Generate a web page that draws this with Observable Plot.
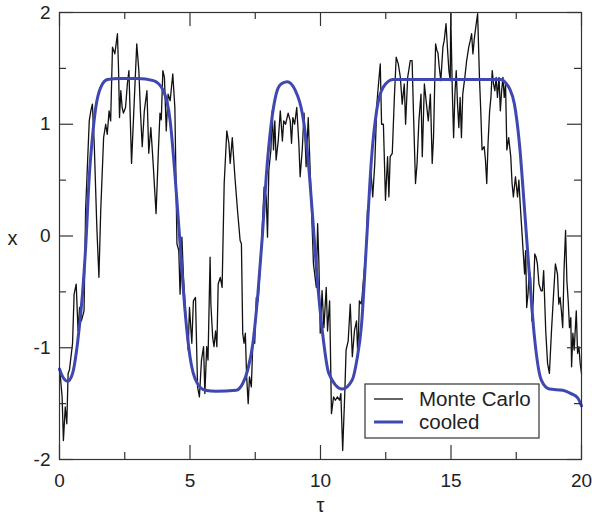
<!DOCTYPE html>
<html>
<head>
<meta charset="utf-8">
<script src="https://cdn.jsdelivr.net/npm/d3@7"></script>
<script src="https://cdn.jsdelivr.net/npm/@observablehq/plot@0.6"></script>
<style>
  html, body { margin: 0; padding: 0; background: #fff; }
  #chart { position: relative; width: 592px; height: 516px; }
</style>
</head>
<body>
<div id="chart"></div>
<script>
// ---- data ----
const xTickLabels = [0, 5, 10, 15, 20];
const xMinorTicks = [2.5, 7.5, 12.5, 17.5];
const yTickLabels = [-2, -1, 0, 1, 2];
const yMinorTicks = [-1.5, -0.5, 0.5, 1.5];

const seriesNames = ["Monte Carlo", "cooled"];

const mcTau = [0.0,0.03,0.1,0.15,0.22,0.28,0.33,0.38,0.5,0.56,0.64,0.71,0.77,0.84,0.94,1.0,1.14,1.2,1.26,1.33,1.43,1.51,1.58,1.69,1.77,1.83,1.9,1.96,2.03,2.12,2.22,2.26,2.3,2.35,2.4,2.45,2.53,2.6,2.66,2.76,2.96,3.04,3.1,3.17,3.25,3.35,3.42,3.5,3.58,3.7,3.79,3.85,3.9,3.96,4.02,4.09,4.16,4.24,4.34,4.42,4.5,4.57,4.62,4.69,4.75,4.85,4.93,4.98,5.07,5.13,5.21,5.29,5.36,5.44,5.52,5.57,5.64,5.69,5.77,5.8,5.87,5.92,5.98,6.03,6.08,6.16,6.23,6.31,6.41,6.49,6.54,6.62,6.72,6.82,6.92,6.97,7.02,7.07,7.12,7.17,7.23,7.28,7.35,7.41,7.48,7.54,7.61,7.69,7.74,7.84,7.92,7.97,8.02,8.1,8.15,8.2,8.25,8.3,8.38,8.46,8.54,8.59,8.66,8.76,8.84,8.89,8.94,9.01,9.09,9.17,9.22,9.3,9.37,9.45,9.53,9.58,9.73,9.84,9.89,9.94,9.99,10.06,10.13,10.22,10.27,10.35,10.42,10.5,10.57,10.65,10.73,10.78,10.85,10.93,10.98,11.06,11.14,11.22,11.3,11.38,11.43,11.49,11.57,11.75,11.8,11.85,11.93,12.0,12.08,12.16,12.2,12.29,12.34,12.41,12.49,12.57,12.62,12.67,12.75,12.83,12.9,12.98,13.06,13.13,13.21,13.26,13.34,13.44,13.51,13.56,13.64,13.7,13.77,13.85,13.9,13.98,14.06,14.13,14.21,14.28,14.33,14.41,14.46,14.5,14.55,14.61,14.69,14.74,14.81,14.87,14.92,14.97,14.99,15.05,15.1,15.15,15.2,15.25,15.3,15.35,15.4,15.45,15.53,15.6,15.68,15.74,15.79,15.84,15.9,15.95,16.02,16.09,16.14,16.19,16.27,16.32,16.37,16.42,16.48,16.53,16.58,16.63,16.68,16.73,16.78,16.84,16.89,16.94,16.99,17.04,17.09,17.14,17.21,17.29,17.34,17.39,17.47,17.55,17.6,17.65,17.82,17.86,17.9,17.95,18.0,18.05,18.1,18.15,18.21,18.26,18.31,18.37,18.45,18.5,18.55,18.63,18.7,18.77,18.85,18.93,19.0,19.08,19.13,19.18,19.23,19.28,19.33,19.39,19.44,19.49,19.54,19.59,19.62,19.67,19.72,19.8,19.85,19.9,19.95,20.0];
const mcX = [-1.2,-1.25,-1.44,-1.83,-1.53,-1.68,-1.23,-1.2,-0.96,-0.52,-0.43,-0.85,-0.64,-0.76,-0.67,0.23,1.03,1.12,1.18,0.83,0.08,-0.37,0.23,0.88,1.0,0.91,1.12,1.03,1.69,1.63,1.81,1.51,1.06,1.3,1.15,1.1,1.15,1.36,1.48,0.65,1.72,1.48,1.12,0.8,1.12,1.3,0.74,0.97,0.68,0.2,0.77,1.1,1.04,1.48,1.42,0.94,1.27,1.21,1.45,1.15,-0.07,-0.13,-0.52,-0.01,-0.37,-0.76,-1.02,-0.64,-0.96,-0.58,-0.55,-1.35,-1.44,-1.11,-0.99,-1.41,-0.99,-1.11,-0.19,-0.61,-0.91,-0.99,-0.85,-0.99,-0.43,-0.37,-0.46,0.47,0.94,0.83,0.65,0.88,0.53,0.23,-0.04,-0.07,-0.87,-0.96,-0.87,-1.26,-1.5,-1.26,-1.35,-0.94,-0.96,-0.55,-0.58,-0.28,-0.07,0.44,0.35,-0.01,0.59,0.77,1.12,0.77,1.03,0.68,0.85,1.12,0.85,1.03,1.0,1.1,1.03,0.83,1.06,1.0,1.15,0.83,0.53,0.77,1.1,0.62,1.06,0.74,-0.25,-0.46,0.11,-0.25,-0.87,-0.49,-0.82,-0.46,-0.85,-0.58,-1.59,-1.44,-1.47,-1.44,-1.47,-1.41,-1.92,-1.41,-1.02,-0.94,-0.61,-1.08,-0.85,-0.76,-1.08,-0.58,-0.61,-0.1,0.23,0.29,0.59,0.35,0.65,1.18,1.3,1.54,1.0,1.0,0.32,0.71,0.35,0.71,0.74,1.24,1.6,1.54,1.42,1.18,1.36,1.0,1.42,1.57,1.57,1.12,0.47,0.65,1.03,1.27,0.71,1.36,1.18,1.03,1.27,0.65,0.88,1.72,1.66,1.64,1.51,1.39,1.69,1.75,1.9,1.66,1.48,1.39,1.99,1.3,0.88,1.27,1.48,1.18,0.97,1.24,0.88,1.27,1.42,1.57,1.69,1.75,1.81,1.63,1.78,1.87,1.99,1.42,1.12,0.77,0.8,0.68,0.47,0.83,1.12,1.24,1.48,1.36,1.3,1.42,1.24,1.42,1.12,1.3,1.42,1.24,1.36,0.77,0.88,0.71,0.47,0.35,0.53,0.35,0.5,0.29,-0.34,-0.13,-0.64,-0.52,-0.31,-0.37,-0.76,-0.58,-0.16,-0.19,-0.25,-0.43,-0.49,-0.49,-0.31,-0.85,-1.14,-1.23,-0.85,-0.52,-0.25,-0.34,-0.61,-0.55,-0.67,-0.82,-0.31,0.05,-0.4,-0.58,-0.82,-0.73,-1.17,-0.87,-1.02,-0.67,-1.05,-0.99,-1.14,-1.23];

const coolTau = [0,0.1,0.31,0.5,0.69,0.88,1.01,1.14,1.26,1.39,1.58,1.84,2.3,3.0,3.6,3.98,4.24,4.43,4.62,4.81,5.0,5.26,5.58,6.0,6.77,7.02,7.21,7.41,7.6,7.77,7.92,8.11,8.3,8.49,8.72,9.04,9.3,9.49,9.68,9.87,10.07,10.32,10.83,11.21,11.4,11.57,11.76,11.95,12.15,12.4,12.78,13.5,15,16,16.91,17.1,17.24,17.43,17.62,17.82,18.01,18.2,18.46,18.77,19.28,19.6,19.86,20];
const coolX = [-1.19,-1.25,-1.3,-1.23,-0.96,-0.52,-0.07,0.53,0.88,1.15,1.33,1.4,1.41,1.41,1.39,1.3,1.03,0.53,-0.07,-0.67,-1.08,-1.31,-1.38,-1.39,-1.38,-1.32,-1.2,-0.96,-0.52,-0.01,0.53,1.0,1.27,1.36,1.38,1.3,1.1,0.77,0.23,-0.37,-0.85,-1.23,-1.37,-1.29,-1.1,-0.8,-0.07,0.68,1.12,1.33,1.4,1.4,1.4,1.4,1.4,1.37,1.32,1.18,0.83,0.23,-0.37,-0.91,-1.29,-1.37,-1.38,-1.41,-1.45,-1.52];

const colors = ["#111111", "#3f48b0"];

// ---- tables ----
const mc = mcTau.map((t, i) => ({t, x: mcX[i]}));
const cooled = coolTau.map((t, i) => ({t, x: coolX[i]}));

const frameColor = "#333";
const font = "'Liberation Sans', Arial, Helvetica, sans-serif";
const W = 592, H = 516, mL = 59, mR = 11, mT = 12, mB = 57;
const fw = W - mL - mR, fh = H - mT - mB;
const major = 14, minor = 7;
const fmt = d => String(d);

const tickStyle = {stroke: frameColor, strokeWidth: 1.2};

const chart = Plot.plot({
  width: W,
  height: H,
  marginLeft: mL,
  marginRight: mR,
  marginTop: mT,
  marginBottom: mB,
  style: {fontFamily: font, fontSize: "18px", color: "#222", background: "#fff"},
  x: {domain: [0, 20]},
  y: {domain: [-2, 2]},
  marks: [
    Plot.line(mc, {x: "t", y: "x", stroke: colors[0], strokeWidth: 1.3}),
    Plot.line(cooled, {x: "t", y: "x", stroke: colors[1], strokeWidth: 3, curve: "monotone-x"}),
    // inward ticks (major + minor), all four sides
    Plot.ruleX(xTickLabels, {...tickStyle, insetTop: fh - major}),
    Plot.ruleX(xTickLabels, {...tickStyle, insetBottom: fh - major}),
    Plot.ruleX(xMinorTicks, {...tickStyle, insetTop: fh - minor}),
    Plot.ruleX(xMinorTicks, {...tickStyle, insetBottom: fh - minor}),
    Plot.ruleY(yTickLabels, {...tickStyle, insetRight: fw - major}),
    Plot.ruleY(yTickLabels, {...tickStyle, insetLeft: fw - major}),
    Plot.ruleY(yMinorTicks, {...tickStyle, insetRight: fw - minor}),
    Plot.ruleY(yMinorTicks, {...tickStyle, insetLeft: fw - minor}),
    Plot.frame({stroke: frameColor, strokeWidth: 1.2}),
    // tick labels
    Plot.axisX(xTickLabels, {anchor: "bottom", tickSize: 0, tickPadding: 14, fontSize: 19, fill: "#222", tickFormat: fmt, label: null}),
    Plot.axisY(yTickLabels, {anchor: "left", tickSize: 0, tickPadding: 9, fontSize: 19, fill: "#222", tickFormat: fmt, label: null}),
    // axis titles
    Plot.text(["τ"], {frameAnchor: "bottom", dy: 52, fontSize: 20, fill: "#222"}),
    Plot.text(["x"], {frameAnchor: "left", textAnchor: "middle", dx: -47, dy: 3, fontSize: 20, fill: "#222"})
  ]
});

document.getElementById("chart").appendChild(chart);

// ---- legend (inside the plot area) ----
const svg = d3.select(chart);
const lg = svg.append("g").attr("transform", "translate(365,384)");
lg.append("rect").attr("width", 174).attr("height", 54)
  .attr("fill", "#fff").attr("stroke", frameColor).attr("stroke-width", 1.2);
seriesNames.forEach((name, i) => {
  const yy = 15 + i * 23;
  lg.append("line").attr("x1", 9).attr("x2", 38).attr("y1", yy).attr("y2", yy)
    .attr("stroke", colors[i]).attr("stroke-width", i === 0 ? 1.3 : 3);
  lg.append("text").attr("x", 54).attr("y", yy).attr("dy", "0.36em")
    .attr("text-anchor", "start")
    .attr("font-family", font).attr("font-size", 20.5).attr("fill", "#222").text(name);
});
</script>
</body>
</html>
